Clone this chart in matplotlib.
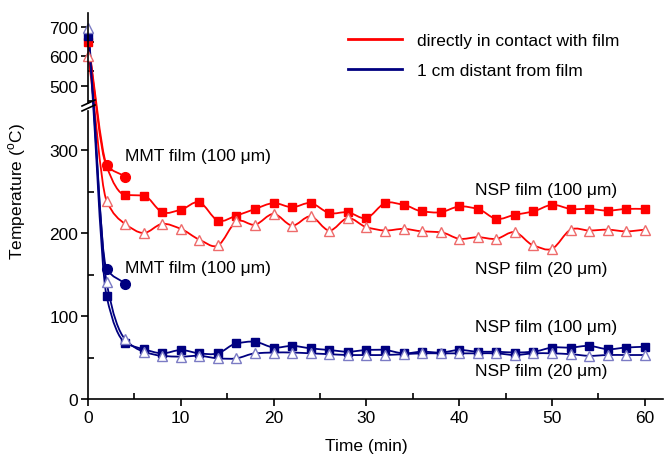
import matplotlib
matplotlib.use('Agg')
import matplotlib.pyplot as plt
import numpy as np
from matplotlib.path import Path
from matplotlib.patches import PathPatch
from matplotlib.lines import Line2D

plt.rcParams['font.family'] = ['Liberation Sans', 'DejaVu Sans']

# time axis (min)
t = list(range(0, 62, 2))
t_mmt = [0, 2, 4]

# directly in contact with film
red_nsp100 = [648, 281, 246, 245, 225, 228, 237, 215, 221, 229, 236, 231, 236, 224, 225, 218,
              236, 234, 226, 225, 232, 229, 217, 222, 226, 234, 229, 229, 227, 229, 229]
red_nsp20 = [600, 239, 211, 200, 211, 205, 192, 185, 214, 210, 223, 209, 220, 203, 218, 207,
             203, 205, 202, 201, 193, 195, 193, 201, 185, 181, 204, 203, 204, 202, 204]
red_mmt = [640, 282, 268]

# 1 cm distant from film
blue_nsp100 = [668, 124, 68, 60, 55, 59, 55, 55, 67, 69, 62, 64, 61, 59, 57, 59,
               59, 55, 57, 56, 59, 57, 57, 56, 57, 62, 62, 64, 60, 62, 63]
blue_nsp20 = [695, 141, 72, 57, 52, 51, 52, 49, 49, 55, 56, 56, 55, 54, 53, 53,
              53, 54, 55, 55, 55, 55, 55, 53, 55, 55, 54, 52, 53, 53, 53]
blue_mmt = [680, 157, 139]

RED = '#ff0000'
RED_LIGHT = '#ee6b6b'
NAVY = '#000080'
NAVY_LIGHT = '#7b7bc4'

# broken y axis: 0-347 lower part, 442-747 upper part
BRK = [0, 347, 442, 747]
PIX = [0, 288, 296, 386]


def fwd(v):
    return np.interp(v, BRK, PIX)


def inv(v):
    return np.interp(v, PIX, BRK)


def smooth_path(x, y):
    # cubic bezier through the points; tangents limited on steep drops
    x = np.asarray(x, float)
    y = np.asarray(y, float)
    n = len(x)
    d = np.diff(y) / np.diff(x)
    m = np.zeros(n)
    m[0], m[-1] = d[0], d[-1]
    for i in range(1, n - 1):
        a, b = d[i - 1], d[i]
        if a * b > 0:
            m[i] = 2 * a * b / (a + b)
        else:
            m[i] = (a + b) / 2
    verts = [(x[0], y[0])]
    codes = [Path.MOVETO]
    for i in range(n - 1):
        h = (x[i + 1] - x[i]) / 3
        verts += [(x[i] + h, y[i] + m[i] * h), (x[i + 1] - h, y[i + 1] - m[i + 1] * h),
                  (x[i + 1], y[i + 1])]
        codes += [Path.CURVE4] * 3
    return Path(verts, codes)


W, H = 665, 456
fig = plt.figure(figsize=(W / 100, H / 100), dpi=100)
ax = fig.add_axes([88 / W, 56 / H, 575.4 / W, 386 / H])
ax.set_yscale('function', functions=(fwd, inv))
ax.set_xlim(0, 62)
ax.set_ylim(0, 747)

lw = 1.3
for ys, col in [(red_nsp100, RED), (red_nsp20, RED), (blue_nsp100, NAVY), (blue_nsp20, NAVY)]:
    ax.add_patch(PathPatch(smooth_path(t, ys), fill=False, ec=col, lw=lw, zorder=2))
for ys, col in [(red_mmt, RED), (blue_mmt, NAVY)]:
    ax.add_patch(PathPatch(smooth_path(t_mmt, ys), fill=False, ec=col, lw=lw, zorder=2))

ax.plot(t, red_nsp100, ls='none', marker='s', ms=6, color=RED, zorder=3, clip_on=False)
ax.plot(t, red_nsp20, ls='none', marker='^', ms=7.5, mfc='white', mec=RED_LIGHT, mew=1, zorder=3, clip_on=False)
ax.plot(t_mmt[1:], red_mmt[1:], ls='none', marker='o', ms=7, color=RED, zorder=3)
ax.plot(t, blue_nsp100, ls='none', marker='s', ms=6, color=NAVY, zorder=3, clip_on=False)
ax.plot(t, blue_nsp20, ls='none', marker='^', ms=7.5, mfc='white', mec=NAVY_LIGHT, mew=1, zorder=3, clip_on=False)
ax.plot(t_mmt[1:], blue_mmt[1:], ls='none', marker='o', ms=7, color=NAVY, zorder=3)

# axes styling
for s in ['top', 'right', 'left']:
    ax.spines[s].set_visible(False)
ax.spines['bottom'].set_linewidth(1.2)
ax.plot([0, 0], [0, 347], color='black', lw=1.2, clip_on=False, zorder=4)
ax.plot([0, 0], [442, 747], color='black', lw=1.2, clip_on=False, zorder=4)
# break marks
for dy in (0, 5):
    fig.add_artist(Line2D([82 / W, 95 / W], [1 - (112 - dy) / H, 1 - (106 - dy) / H],
                          color='black', lw=1.2))

ax.set_xticks(range(0, 70, 10))
ax.set_xticks(range(5, 60, 10), minor=True)
ax.set_yticks([0, 100, 200, 300, 500, 600, 700])
ax.set_yticks([50, 150, 250, 450, 550, 650], minor=True)
ax.tick_params(which='major', direction='out', length=5, width=1.2, labelsize=12.5, pad=3)
ax.tick_params(which='minor', direction='in', length=4, width=1.2)
ax.tick_params(axis='y', which='major', pad=2)

ax.set_xlabel('Time (min)', fontsize=12.5)
ax.xaxis.set_label_coords(0.483, -0.10)
ax.set_ylabel('Temperature ($^\\mathregular{o}$C)', fontsize=12.5)
ax.yaxis.set_label_coords(-0.104, 0.54)

fs = 12.5
ax.text(4, 293, 'MMT film (100 μm)', fontsize=fs, va='center')
ax.text(4, 159, 'MMT film (100 μm)', fontsize=fs, va='center')
ax.text(41.7, 253, 'NSP film (100 μm)', fontsize=fs, va='center')
ax.text(41.7, 157, 'NSP film (20 μm)', fontsize=fs, va='center')
ax.text(41.7, 87, 'NSP film (100 μm)', fontsize=fs, va='center')
ax.text(41.7, 34, 'NSP film (20 μm)', fontsize=fs, va='center')

handles = [Line2D([], [], color=RED, lw=2), Line2D([], [], color=NAVY, lw=2)]
fig.legend(handles, ['directly in contact with film', '1 cm distant from film'],
           loc='upper left', bbox_to_anchor=(348 / W, 1 - 34 / H), frameon=False,
           fontsize=fs, handlelength=3.1, handletextpad=0.9, labelspacing=0.85,
           borderpad=0, borderaxespad=0)

fig.savefig('out.png', dpi=100)
